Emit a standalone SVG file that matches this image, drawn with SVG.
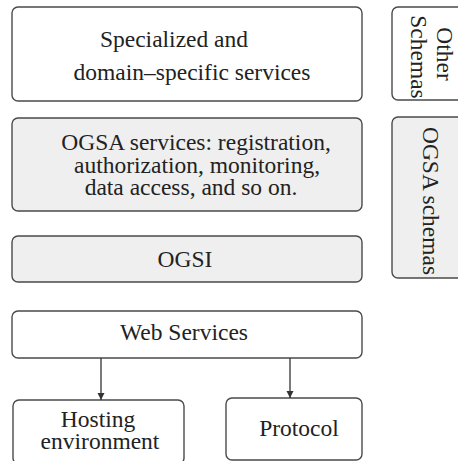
<svg xmlns="http://www.w3.org/2000/svg" width="458" height="461" viewBox="0 0 458 461">
  <style>
    .box { stroke: #4a4a4a; stroke-width: 1.4; fill: #ffffff; }
    .shaded { fill: #efefef; }
    .lbl { font-family: "Liberation Serif", "Times New Roman", serif; font-size: 23.5px; fill: #222222; text-anchor: middle; }
    .edge { stroke: #333333; stroke-width: 1.3; fill: none; }
  </style>
  <defs>
    <marker id="arrow" viewBox="0 0 10 10" refX="10" refY="5" markerWidth="7" markerHeight="10" markerUnits="userSpaceOnUse" orient="auto">
      <path d="M0,0 L10,5 L0,10 Z" fill="#333333"/>
    </marker>
  </defs>
  <rect width="458" height="461" fill="#ffffff"/>

  <g id="specialized">
    <rect class="box" x="12" y="7" width="350" height="94" rx="6"/>
    <text class="lbl" x="174" y="47">Specialized and</text>
    <text class="lbl" x="192" y="80">domain–specific services</text>
  </g>

  <g id="ogsa-services">
    <rect class="box shaded" x="12" y="118" width="350" height="93" rx="6"/>
    <text class="lbl" x="196" y="150">OGSA services: registration,</text>
    <text class="lbl" x="197" y="173">authorization, monitoring,</text>
    <text class="lbl" x="191" y="195">data access, and so on.</text>
  </g>

  <g id="ogsi">
    <rect class="box shaded" x="12" y="236" width="350" height="46" rx="6"/>
    <text class="lbl" x="185" y="267">OGSI</text>
  </g>

  <g id="web-services">
    <rect class="box" x="12" y="311" width="350" height="47" rx="6"/>
    <text class="lbl" x="184" y="340">Web Services</text>
  </g>

  <g id="hosting">
    <rect class="box" x="13" y="400" width="171" height="64" rx="6"/>
    <text class="lbl" x="98" y="427">Hosting</text>
    <text class="lbl" x="100" y="449">environment</text>
  </g>

  <g id="protocol">
    <rect class="box" x="226" y="398" width="136" height="62" rx="6"/>
    <text class="lbl" x="299" y="436">Protocol</text>
  </g>

  <g id="other-schemas">
    <rect class="box" x="392" y="7" width="80" height="93" rx="6"/>
    <g transform="translate(437,54) rotate(90)">
      <text class="lbl" x="0" y="0">Other</text>
      <text class="lbl" x="3" y="26">Schemas</text>
    </g>
  </g>

  <g id="ogsa-schemas">
    <rect class="box shaded" x="392" y="117" width="80" height="161" rx="6"/>
    <text class="lbl" transform="translate(423,201) rotate(90)" x="0" y="0">OGSA schemas</text>
  </g>

  <g id="connectors">
    <line class="edge" x1="101" y1="358" x2="101" y2="400" marker-end="url(#arrow)"/>
    <line class="edge" x1="290" y1="358" x2="290" y2="398" marker-end="url(#arrow)"/>
  </g>
</svg>
